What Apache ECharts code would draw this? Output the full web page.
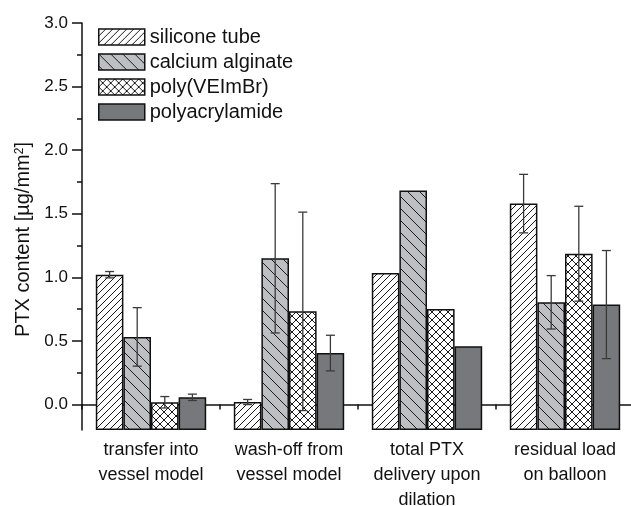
<!DOCTYPE html>
<html>
<head>
<meta charset="utf-8">
<script src="https://cdn.jsdelivr.net/npm/echarts@6/dist/echarts.min.js"></script>
<style>
html,body{margin:0;padding:0;background:#fff;overflow:hidden;}
#c{width:631px;height:506px;}
</style>
</head>
<body>
<div id="c"></div>
<script>
// ---- data ----
const categories = ['transfer into\nvessel model', 'wash-off from\nvessel model', 'total PTX\ndelivery upon\ndilation', 'residual load\non balloon'];
const seriesNames = ['silicone tube', 'calcium alginate', 'poly(VEImBr)', 'polyacrylamide'];
const siliconeTube = [1.021, 0.02, 1.034, 1.58];
const siliconeErr = [0.025, 0.02, null, 0.23];
const calciumAlginate = [0.532, 1.15, 1.683, 0.804];
const calciumErr = [0.23, 0.587, null, 0.21];
const polyVEImBr = [0.018, 0.733, 0.752, 1.186];
const polyVEImBrErr = [0.045, 0.78, null, 0.373];
const polyacrylamide = [0.057, 0.405, 0.458, 0.786];
const polyacrylamideErr = [0.025, 0.14, null, 0.425];
const yTickValues = [0, 0.5, 1.0, 1.5, 2.0, 2.5, 3.0];
const yMinorValues = [0.25, 0.75, 1.25, 1.75, 2.25, 2.75];
const yMin = -0.2, yMax = 3.0;

// ---- patterns ----
function hatch(size, dirs, bg, lw) {
  const c = document.createElement('canvas');
  c.width = size; c.height = size;
  const ctx = c.getContext('2d');
  ctx.fillStyle = bg; ctx.fillRect(0, 0, size, size);
  ctx.strokeStyle = '#1a1a1a'; ctx.lineWidth = lw;
  dirs.forEach(d => {
    ctx.beginPath();
    [-size, 0, size].forEach(o => {
      if (d === '/') { ctx.moveTo(o - 1, size + 1); ctx.lineTo(o + size + 1, -1); }
      else { ctx.moveTo(o - 1, -1); ctx.lineTo(o + size + 1, size + 1); }
    });
    ctx.stroke();
  });
  return { image: c, repeat: 'repeat' };
}
const fills = [
  hatch(7, ['/'], '#ffffff', 1),
  hatch(12, ['\\'], '#bdbfc2', 1),
  hatch(8, ['/', '\\'], '#ffffff', 1),
  '#77787b'
];

const values = [siliconeTube, calciumAlginate, polyVEImBr, polyacrylamide];
const errs = [siliconeErr, calciumErr, polyVEImBrErr, polyacrylamideErr];
const errData = [];
errs.forEach((arr, si) => arr.forEach((e, ci) => {
  if (e != null) errData.push([ci, values[si][ci], e, si]);
}));

const font = '"Liberation Sans", Arial, sans-serif';
const barSeries = seriesNames.map((n, i) => ({
  name: n, type: 'bar', data: values[i],
  barGap: '0%', barCategoryGap: '20%',
  itemStyle: { color: fills[i], borderColor: '#111', borderWidth: 1.5 },
  emphasis: { disabled: true }
}));

const chart = echarts.init(document.getElementById('c'), null, { renderer: 'canvas' });
chart.setOption({
  animation: false,
  textStyle: { fontFamily: font },
  grid: { left: 82, right: -3, top: 23, bottom: 76, containLabel: false, outerBoundsMode: 'none' },
  legend: {
    data: seriesNames, orient: 'vertical', left: 98, top: 27, padding: 0,
    itemWidth: 46, itemHeight: 16, itemGap: 5,
    icon: 'rect',
    itemStyle: { borderColor: '#111', borderWidth: 1.5 },
    textStyle: { fontSize: 20, color: '#111', fontFamily: font, lineHeight: 16 }
  },
  xAxis: [{
    type: 'category', data: categories, position: 'bottom',
    axisLine: { show: true, lineStyle: { color: '#111', width: 1.5 } },
    axisTick: { show: true, alignWithLabel: true, length: 10, lineStyle: { color: '#111', width: 1.5 } },
    axisLabel: { interval: 0, fontSize: 18, lineHeight: 25, color: '#111', margin: 8, fontFamily: font },
    splitLine: { show: false }
  }, {
    type: 'category', data: categories, position: 'bottom',
    axisLine: { show: false },
    axisTick: { show: true, length: 5, lineStyle: { color: '#111', width: 1.5 } },
    axisLabel: { show: false },
    splitLine: { show: false }
  }],
  yAxis: [{
    type: 'value', min: yMin, max: yMax, startValue: yMin,
    axisLine: { show: true, lineStyle: { color: '#111', width: 1.5 } },
    axisTick: { show: true, length: 10, customValues: yTickValues, lineStyle: { color: '#111', width: 1.5 } },
    axisLabel: { customValues: yTickValues, formatter: v => v.toFixed(1), fontSize: 17, color: '#111', margin: 14, fontFamily: font },
    splitLine: { show: false },
    name: 'PTX content [µg/mm{sup|2}]',
    nameLocation: 'middle', nameRotate: 90, nameGap: 46,
    nameTextStyle: {
      fontSize: 20, color: '#111', fontFamily: font, padding: [0, 26, 0, 0],
      rich: { sup: { fontSize: 12, verticalAlign: 'top', color: '#111', fontFamily: font, padding: [0, 0, 7, 0] } }
    }
  }, {
    type: 'value', min: yMin, max: yMax, position: 'left',
    axisLine: { show: false },
    axisTick: { show: true, length: 5, customValues: yMinorValues, lineStyle: { color: '#111', width: 1.5 } },
    axisLabel: { show: false },
    splitLine: { show: false }
  }],
  series: barSeries.concat([{
    type: 'custom', name: 'error', xAxisIndex: 0, yAxisIndex: 0, z: 10, silent: true,
    encode: { x: 0, y: 1 },
    renderItem: function (params, api) {
      const ci = api.value(0), v = api.value(1), e = api.value(2), si = api.value(3);
      const band = api.size([1, 0])[0];
      const bw = band * 0.8 / 4;
      const cx = api.coord([ci, 0])[0] + (si - 1.5) * bw;
      const top = api.coord([ci, v + e])[1], bot = api.coord([ci, v - e])[1];
      const h = 4.5;
      const st = { stroke: '#3a3a3a', lineWidth: 1.3 };
      return {
        type: 'group', children: [
          { type: 'line', shape: { x1: cx, y1: top, x2: cx, y2: bot }, style: st },
          { type: 'line', shape: { x1: cx - h, y1: top, x2: cx + h, y2: top }, style: st },
          { type: 'line', shape: { x1: cx - h, y1: bot, x2: cx + h, y2: bot }, style: st }
        ]
      };
    },
    data: errData
  }])
});
</script>
</body>
</html>
